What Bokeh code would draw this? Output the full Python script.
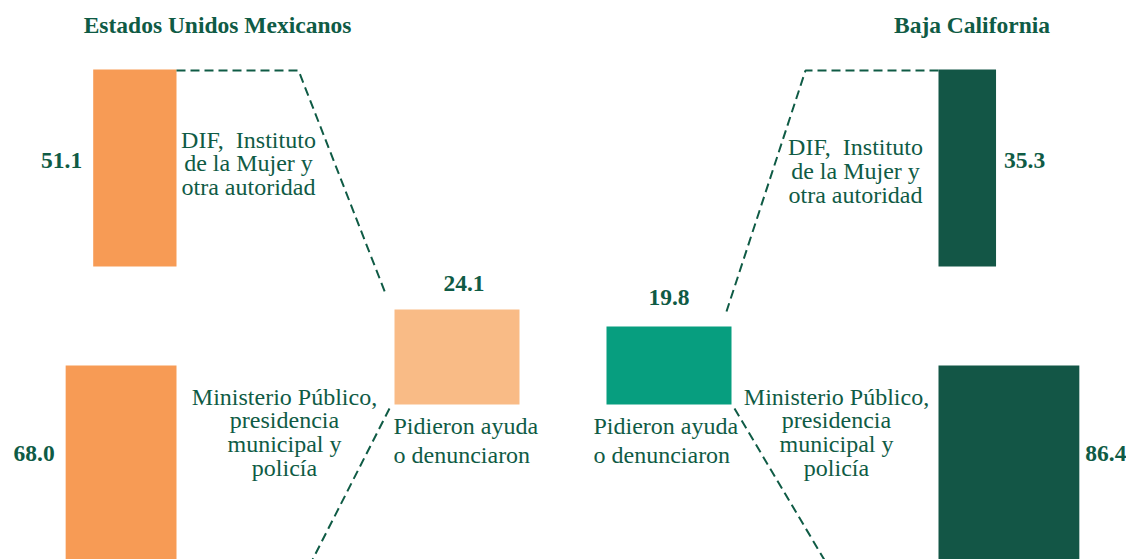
from bokeh.plotting import figure
from bokeh.models import Range1d
from bokeh.embed import file_html
from bokeh.resources import INLINE
from bokeh.core.properties import value

# ---------------- data ----------------
regions = ["Estados Unidos Mexicanos", "Baja California"]
ayuda = [24.1, 19.8]          # Pidieron ayuda o denunciaron
dif = [51.1, 35.3]            # DIF, Instituto de la Mujer y otra autoridad
ministerio = [68.0, 86.4]     # Ministerio Público, presidencia municipal y policía
label_ayuda = ["Pidieron ayuda", "o denunciaron"]
label_dif = ["DIF,\u00a0 Instituto", "de la Mujer y", "otra autoridad"]
label_mp = ["Ministerio Público,", "presidencia", "municipal y", "policía"]

# ---------------- style / layout ----------------
TXT = "#0F5B45"
FONT = value("'Liberation Serif', 'DejaVu Serif', serif")
mid_colors = ["#F9BB86", "#079E7F"]
side_colors = ["#F79B55", "#135646"]

W, H = 1126, 559
p = figure(width=W, height=H, x_range=Range1d(0, W), y_range=Range1d(H, 0),
           output_backend="svg", toolbar_location=None, x_axis_type=None, y_axis_type=None,
           min_border=0, outline_line_color=None)
p.background_fill_color = "white"
p.border_fill_color = "white"

WK = 1.63     # px per percent (width of side bars)
HK = 3.94     # px per percent (height of central bars)
inner = [176, 938]
sign = [-1, 1]
top_y = (69, 266)
bot_y = (365, 575)
mid_left = [394, 606]
mid_w = 125
mid_bottom = 404
TY = -8       # text vertical adjustment

def side_edges(i, v):
    if sign[i] < 0:
        return inner[i] - WK * v, inner[i]
    return inner[i], inner[i] + WK * v

# side bars
for vals, (yt, yb) in ((dif, top_y), (ministerio, bot_y)):
    L, R = [], []
    for i, v in enumerate(vals):
        l, r = side_edges(i, v)
        L.append(l); R.append(r)
    p.quad(left=L, right=R, top=[yt] * 2, bottom=[yb] * 2, fill_color=side_colors, line_color=None)

# central bars
mid_top = [mid_bottom - HK * v for v in ayuda]
p.quad(left=mid_left, right=[x + mid_w for x in mid_left], top=mid_top, bottom=[mid_bottom] * 2,
       fill_color=mid_colors, line_color=None)

# dashed connectors
dash = dict(line_color=TXT, line_width=2, line_dash="9 5")
p.line([inner[0], 298, 385], [70, 70, 293], **dash)
p.line([389, 305], [408, 573], **dash)
p.line([inner[1], 805, 726], [70, 70, 311], **dash)
p.line([734, 832], [408, 573], **dash)

def txt(x, y, t, size, align, bold=False):
    p.text(x=x, y=[yy + TY for yy in y], text=t, text_font=FONT, text_font_size=size,
           text_color=TXT, text_align=align, text_baseline="alphabetic",
           text_font_style="bold" if bold else "normal")

# titles
txt([217, 971.5], [32, 32], regions, "23.5px", "center", True)

# value labels
for vals, base, gaps in ((dif, 168, (11, 8)), (ministerio, 461, (11, 6))):
    l0, r0 = side_edges(0, vals[0])
    l1, r1 = side_edges(1, vals[1])
    txt([l0 - gaps[0]], [base], [f"{vals[0]:.1f}"], "23.5px", "right", True)
    txt([r1 + gaps[1]], [base], [f"{vals[1]:.1f}"], "23.5px", "left", True)

txt([mid_left[0] + mid_w / 2 + 7, mid_left[1] + mid_w / 2],
    [mid_top[0] - 18, mid_top[1] - 21], [f"{v:.1f}" for v in ayuda], "23.5px", "center", True)

# category labels
def block(x, y0, step, lines, align):
    txt([x] * len(lines), [y0 + step * k for k in range(len(lines))], lines, "24px", align)

block(248, 147, 23.5, label_dif, "center")
block(855, 154, 24, label_dif, "center")
block(284, 404, 23.7, label_mp, "center")
block(836, 404, 23.7, label_mp, "center")
block(393, 433, 29, label_ayuda, "left")
block(593, 433, 29, label_ayuda, "left")

open("out.html", "w").write(file_html(p, INLINE))
